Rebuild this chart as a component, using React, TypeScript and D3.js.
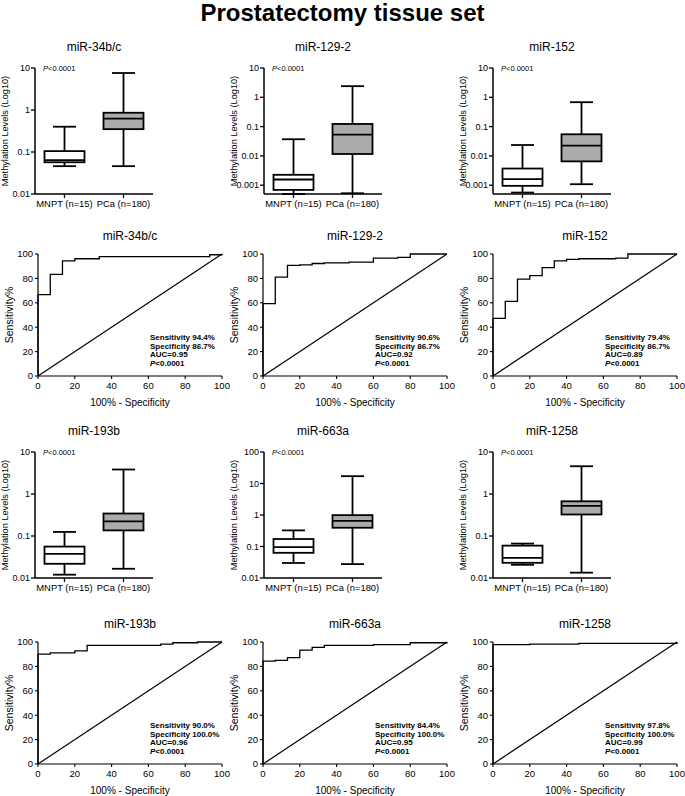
import React from "react";
import * as d3 from "d3";

// ---------- DATA ----------
const figureTitle = "Prostatectomy tissue set";
const genes = ["miR-34b/c", "miR-129-2", "miR-152", "miR-193b", "miR-663a", "miR-1258"];
const groups = ["MNPT (n=15)", "PCa (n=180)"];

// [min, q1, median, q3, max]
const mnptStats = [
  [0.046, 0.057, 0.064, 0.105, 0.4],
  [0.0005, 0.00069, 0.00156, 0.00226, 0.037],
  [0.00056, 0.00095, 0.0016, 0.0037, 0.0235],
  [0.012, 0.0218, 0.0376, 0.056, 0.125],
  [0.03, 0.063, 0.095, 0.173, 0.325],
  [0.0206, 0.023, 0.03, 0.059, 0.066],
];
const pcaStats = [
  [0.046, 0.35, 0.62, 0.86, 7.6],
  [0.00053, 0.0116, 0.053, 0.123, 2.4],
  [0.00108, 0.0065, 0.0223, 0.0546, 0.68],
  [0.0166, 0.136, 0.222, 0.343, 3.83],
  [0.0276, 0.394, 0.655, 0.99, 17.1],
  [0.0134, 0.325, 0.52, 0.67, 4.58],
];
const yMin = [0.01, 0.0005, 0.0005, 0.01, 0.01, 0.01];
const yMax = [10, 10, 10, 10, 100, 10];
const yTickValues = [
  [0.01, 0.1, 1, 10],
  [0.001, 0.01, 0.1, 1, 10],
  [0.001, 0.01, 0.1, 1, 10],
  [0.01, 0.1, 1, 10],
  [0.01, 0.1, 1, 10, 100],
  [0.01, 0.1, 1, 10],
];

// ROC curves: [100% - specificity, sensitivity] step points
const roc34bc = [[0, 0], [0, 66.7], [6.67, 83.3], [13.3, 94.4], [20, 96.1], [33.3, 97.8], [93.3, 99.4], [100, 100]];
const roc1292 = [[0, 0], [0, 59.4], [6.67, 81.1], [13.3, 90.6], [20, 91.1], [26.7, 92.2], [33.3, 92.8], [46.7, 93.3], [60, 96.7], [73.3, 97.2], [80, 100], [100, 100]];
const roc152 = [[0, 0], [0, 47.2], [6.67, 61.1], [13.3, 79.4], [20, 82.2], [26.7, 88.9], [33.3, 94.4], [40, 95.6], [46.7, 96.1], [66.7, 96.7], [73.3, 100], [100, 100]];
const roc193b = [[0, 0], [0, 90], [6.67, 91.1], [20, 92.8], [26.7, 97.2], [66.7, 98.3], [73.3, 99.4], [86.7, 100], [100, 100]];
const roc663a = [[0, 0], [0, 84.4], [6.67, 85], [13.3, 87.2], [20, 93.3], [26.7, 95.6], [33.3, 97.2], [60, 97.8], [80, 99.4], [100, 100]];
const roc1258 = [[0, 0], [0, 97.8], [20, 98.3], [46.7, 98.9], [100, 100]];
const rocCurves = [roc34bc, roc1292, roc152, roc193b, roc663a, roc1258];

const sensitivityText = ["94.4%", "90.6%", "79.4%", "90.0%", "84.4%", "97.8%"];
const specificityText = ["86.7%", "86.7%", "86.7%", "100.0%", "100.0%", "100.0%"];
const aucText = ["0.95", "0.92", "0.89", "0.96", "0.95", "0.99"];
const pText = "<0.0001";
const rocTicks = [0, 20, 40, 60, 80, 100];

// ---------- LAYOUT ----------
const W = 685;
const H = 796;
const FONT = "'Liberation Sans', Arial, Helvetica, sans-serif";
const boxColX = [35, 264, 493];
const boxTop = [68, 452];
const boxH = 126;
const boxW = 118;
const rocColX = [38, 263, 493];
const rocTop = [254, 642];
const rocH = 122;
const rocW = 184;

function BoxPanel({ i }: { i: number }) {
  const row = Math.floor(i / 3);
  const col = i % 3;
  const x0 = boxColX[col];
  const y0 = boxTop[row];
  const bottom = y0 + boxH;
  const y = d3.scaleLog().domain([yMin[i], yMax[i]]).range([bottom, y0]);
  const x = d3.scalePoint<string>().domain(groups).range([x0, x0 + boxW]).padding(0.5);
  const stats = [mnptStats[i], pcaStats[i]];
  const fills = ["#ffffff", "#ababab"];
  const bw = 40;
  const cw = 23;
  return (
    <g>
      <text x={x0 + boxW / 2} y={y0 - 17} textAnchor="middle" fontSize={12} fontFamily={FONT}>
        {genes[i]}
      </text>
      <text
        transform={`translate(${x0 - 27},${y0 + boxH / 2}) rotate(-90)`}
        textAnchor="middle"
        fontSize={9.2}
        fontFamily={FONT}
      >
        Methylation Levels (Log10)
      </text>
      {/* y axis */}
      <line x1={x0} x2={x0} y1={y0} y2={bottom} stroke="#000" strokeWidth={1.5} />
      {yTickValues[i].map((t) => (
        <g key={t}>
          <line x1={x0 - 4} x2={x0} y1={y(t)} y2={y(t)} stroke="#000" strokeWidth={1.3} />
          <text x={x0 - 5} y={y(t)} dy="0.35em" textAnchor="end" fontSize={9} fontFamily={FONT}>
            {String(t)}
          </text>
        </g>
      ))}
      {/* x axis */}
      <line x1={x0} x2={x0 + boxW} y1={bottom} y2={bottom} stroke="#000" strokeWidth={1.5} />
      {groups.map((g) => (
        <g key={g}>
          <line x1={x(g)} x2={x(g)} y1={bottom} y2={bottom + 4} stroke="#000" strokeWidth={1.3} />
          <text x={x(g)} y={bottom + 13} textAnchor="middle" fontSize={9.4} fontFamily={FONT}>
            {g}
          </text>
        </g>
      ))}
      <text x={x0 + 8} y={y0 + 3} fontSize={7.5} fontFamily={FONT}>
        <tspan fontStyle="italic">P</tspan>
        {pText}
      </text>
      {groups.map((g, k) => {
        const [mn, q1, md, q3, mx] = stats[k];
        const cx = x(g) as number;
        return (
          <g key={g} stroke="#000" strokeWidth={1.8}>
            <line x1={cx} x2={cx} y1={y(mx)} y2={y(mn)} />
            <line x1={cx - cw / 2} x2={cx + cw / 2} y1={y(mx)} y2={y(mx)} />
            <line x1={cx - cw / 2} x2={cx + cw / 2} y1={y(mn)} y2={y(mn)} />
            <rect x={cx - bw / 2} y={y(q3)} width={bw} height={y(q1) - y(q3)} fill={fills[k]} />
            <line x1={cx - bw / 2} x2={cx + bw / 2} y1={y(md)} y2={y(md)} />
          </g>
        );
      })}
    </g>
  );
}

function RocPanel({ i }: { i: number }) {
  const row = Math.floor(i / 3);
  const col = i % 3;
  const x0 = rocColX[col];
  const y0 = rocTop[row];
  const bottom = y0 + rocH;
  const x = d3.scaleLinear().domain([0, 100]).range([x0, x0 + rocW]);
  const y = d3.scaleLinear().domain([0, 100]).range([bottom, y0]);
  const line = d3
    .line<number[]>()
    .x((d) => x(d[0]))
    .y((d) => y(d[1]))
    .curve(d3.curveStepAfter);
  const tx = x0 + 112;
  return (
    <g>
      <text x={x0 + rocW / 2} y={y0 - 14} textAnchor="middle" fontSize={12} fontFamily={FONT}>
        {genes[i]}
      </text>
      <text
        transform={`translate(${x0 - 25},${y0 + rocH / 2}) rotate(-90)`}
        textAnchor="middle"
        fontSize={10.5}
        fontFamily={FONT}
      >
        Sensitivity%
      </text>
      <text x={x0 + rocW / 2} y={bottom + 29.5} textAnchor="middle" fontSize={10} fontFamily={FONT}>
        100% - Specificity
      </text>
      <line x1={x0} x2={x0} y1={y0} y2={bottom} stroke="#000" strokeWidth={1.2} />
      <line x1={x0} x2={x0 + rocW} y1={bottom} y2={bottom} stroke="#000" strokeWidth={1.2} />
      {rocTicks.map((t) => (
        <g key={t}>
          <line x1={x(t)} x2={x(t)} y1={bottom} y2={bottom + 3} stroke="#000" strokeWidth={1.1} />
          <text x={x(t)} y={bottom + 12.5} textAnchor="middle" fontSize={9.5} fontFamily={FONT}>
            {t}
          </text>
          <line x1={x0 - 3} x2={x0} y1={y(t)} y2={y(t)} stroke="#000" strokeWidth={1.1} />
          <text x={x0 - 5} y={y(t)} dy="0.35em" textAnchor="end" fontSize={9.5} fontFamily={FONT}>
            {t}
          </text>
        </g>
      ))}
      <line x1={x(0)} y1={y(0)} x2={x(100)} y2={y(100)} stroke="#000" strokeWidth={1.2} />
      <path d={line(rocCurves[i]) || ""} fill="none" stroke="#000" strokeWidth={1.3} />
      <g fontSize={8} fontWeight="bold" fontFamily={FONT}>
        <text x={tx} y={bottom - 36.5}>Sensitivity {sensitivityText[i]}</text>
        <text x={tx} y={bottom - 27.5}>Specificity {specificityText[i]}</text>
        <text x={tx} y={bottom - 19}>AUC={aucText[i]}</text>
        <text x={tx} y={bottom - 10.5}>
          <tspan fontStyle="italic">P</tspan>
          {pText}
        </text>
      </g>
    </g>
  );
}

export default function App() {
  return (
    <svg
      width={W}
      height={H}
      viewBox={`0 0 ${W} ${H}`}
      style={{ position: "absolute", left: 0, top: 0, background: "#fff" }}
    >
      <rect x={0} y={0} width={W} height={H} fill="#fff" />
      <text x={W / 2} y={21} textAnchor="middle" fontSize={24} fontWeight="bold" fontFamily={FONT}>
        {figureTitle}
      </text>
      {genes.map((g, i) => (
        <BoxPanel key={"b" + g} i={i} />
      ))}
      {genes.map((g, i) => (
        <RocPanel key={"r" + g} i={i} />
      ))}
    </svg>
  );
}
